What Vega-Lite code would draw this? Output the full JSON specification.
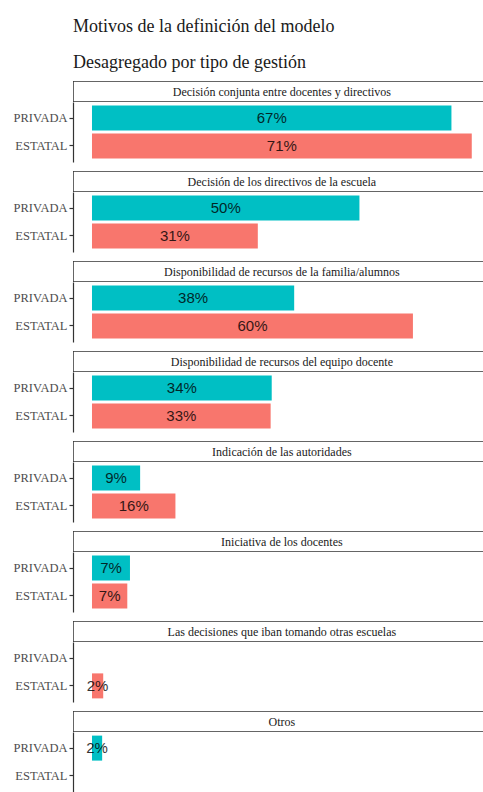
{
  "$schema": "https://vega.github.io/schema/vega-lite/v6.json",
  "padding": {"left": 5, "top": 18, "right": 0, "bottom": 0},
  "background": "white",
  "title": {
    "text": "Motivos de la definición del modelo",
    "subtitle": "Desagregado por tipo de gestión",
    "anchor": "start",
    "frame": "group",
    "font": "Liberation Serif",
    "fontSize": 18,
    "fontWeight": "normal",
    "color": "#1a1a1a",
    "subtitleFont": "Liberation Serif",
    "subtitleFontSize": 18,
    "subtitleColor": "#1a1a1a",
    "subtitlePadding": 18,
    "offset": 9,
    "dx": 0
  },
  "datasets": {
    "d": [
      {"motivo": "Decisión conjunta entre docentes y directivos", "gestion": "PRIVADA", "pct": 0.672},
      {"motivo": "Decisión conjunta entre docentes y directivos", "gestion": "ESTATAL", "pct": 0.71},
      {"motivo": "Decisión de los directivos de la escuela", "gestion": "PRIVADA", "pct": 0.50},
      {"motivo": "Decisión de los directivos de la escuela", "gestion": "ESTATAL", "pct": 0.31},
      {"motivo": "Disponibilidad de recursos de la familia/alumnos", "gestion": "PRIVADA", "pct": 0.378},
      {"motivo": "Disponibilidad de recursos de la familia/alumnos", "gestion": "ESTATAL", "pct": 0.60},
      {"motivo": "Disponibilidad de recursos del equipo docente", "gestion": "PRIVADA", "pct": 0.336},
      {"motivo": "Disponibilidad de recursos del equipo docente", "gestion": "ESTATAL", "pct": 0.334},
      {"motivo": "Indicación de las autoridades", "gestion": "PRIVADA", "pct": 0.09},
      {"motivo": "Indicación de las autoridades", "gestion": "ESTATAL", "pct": 0.156},
      {"motivo": "Iniciativa de los docentes", "gestion": "PRIVADA", "pct": 0.071},
      {"motivo": "Iniciativa de los docentes", "gestion": "ESTATAL", "pct": 0.066},
      {"motivo": "Las decisiones que iban tomando otras escuelas", "gestion": "ESTATAL", "pct": 0.021},
      {"motivo": "Otros", "gestion": "PRIVADA", "pct": 0.019}
    ],
    "strips": [
      {"motivo": "Decisión conjunta entre docentes y directivos"},
      {"motivo": "Decisión de los directivos de la escuela"},
      {"motivo": "Disponibilidad de recursos de la familia/alumnos"},
      {"motivo": "Disponibilidad de recursos del equipo docente"},
      {"motivo": "Indicación de las autoridades"},
      {"motivo": "Iniciativa de los docentes"},
      {"motivo": "Las decisiones que iban tomando otras escuelas"},
      {"motivo": "Otros"}
    ]
  },
  "spacing": 9,
  "vconcat": [
    {"spacing": 0, "vconcat": [
      {"height": 21, "width": 410, "data": {"name": "strips"}, "transform": [{"filter": "datum.motivo == 'Decisión conjunta entre docentes y directivos'"}],
       "layer": [
        {"mark": {"type": "rect", "fill": "white", "stroke": "#333333", "strokeWidth": 1.5, "clip": true}, "encoding": {"x": {"datum": -0.0355, "type": "quantitative", "scale": {"domain": [-0.0355, 0.731], "nice": false, "zero": false}, "axis": null}, "x2": {"datum": 0.9}}},
        {"mark": {"type": "text", "font": "Liberation Serif", "fontSize": 12, "color": "#1a1a1a"}, "encoding": {"x": {"datum": 0.355, "type": "quantitative"}, "text": {"field": "motivo", "type": "nominal"}}}
       ]},
      {"height": 60, "width": 410, "data": {"name": "d"}, "transform": [{"filter": "datum.motivo == 'Decisión conjunta entre docentes y directivos'"}],
       "encoding": {"y": {"field": "gestion", "type": "nominal", "title": null, "scale": {"domain": ["PRIVADA", "ESTATAL"], "paddingInner": 0.1, "paddingOuter": 0.13}}},
       "layer": [
        {"mark": {"type": "bar"}, "encoding": {"x": {"field": "pct", "type": "quantitative", "scale": {"domain": [-0.0355, 0.731], "nice": false, "zero": false}, "axis": null}, "x2": {"datum": 0}, "color": {"field": "gestion", "type": "nominal", "scale": {"domain": ["PRIVADA", "ESTATAL"], "range": ["#00BFC4", "#F8766D"]}, "legend": null}}},
        {"mark": {"type": "text", "font": "Liberation Sans", "fontSize": 15, "color": "#000000", "opacity": 0.8}, "encoding": {"x": {"field": "pct", "type": "quantitative", "scale": {"domain": [-0.071, 1.462], "nice": false, "zero": false}, "axis": null}, "text": {"field": "pct", "type": "quantitative", "format": ".0%"}}}
       ],
       "resolve": {"scale": {"x": "independent"}}}
    ]},
    {"spacing": 0, "vconcat": [
      {"height": 21, "width": 410, "data": {"name": "strips"}, "transform": [{"filter": "datum.motivo == 'Decisión de los directivos de la escuela'"}],
       "layer": [
        {"mark": {"type": "rect", "fill": "white", "stroke": "#333333", "strokeWidth": 1.5, "clip": true}, "encoding": {"x": {"datum": -0.0355, "type": "quantitative", "scale": {"domain": [-0.0355, 0.731], "nice": false, "zero": false}, "axis": null}, "x2": {"datum": 0.9}}},
        {"mark": {"type": "text", "font": "Liberation Serif", "fontSize": 12, "color": "#1a1a1a"}, "encoding": {"x": {"datum": 0.355, "type": "quantitative"}, "text": {"field": "motivo", "type": "nominal"}}}
       ]},
      {"height": 60, "width": 410, "data": {"name": "d"}, "transform": [{"filter": "datum.motivo == 'Decisión de los directivos de la escuela'"}],
       "encoding": {"y": {"field": "gestion", "type": "nominal", "title": null, "scale": {"domain": ["PRIVADA", "ESTATAL"], "paddingInner": 0.1, "paddingOuter": 0.13}}},
       "layer": [
        {"mark": {"type": "bar"}, "encoding": {"x": {"field": "pct", "type": "quantitative", "scale": {"domain": [-0.0355, 0.731], "nice": false, "zero": false}, "axis": null}, "x2": {"datum": 0}, "color": {"field": "gestion", "type": "nominal", "scale": {"domain": ["PRIVADA", "ESTATAL"], "range": ["#00BFC4", "#F8766D"]}, "legend": null}}},
        {"mark": {"type": "text", "font": "Liberation Sans", "fontSize": 15, "color": "#000000", "opacity": 0.8}, "encoding": {"x": {"field": "pct", "type": "quantitative", "scale": {"domain": [-0.071, 1.462], "nice": false, "zero": false}, "axis": null}, "text": {"field": "pct", "type": "quantitative", "format": ".0%"}}}
       ],
       "resolve": {"scale": {"x": "independent"}}}
    ]},
    {"spacing": 0, "vconcat": [
      {"height": 21, "width": 410, "data": {"name": "strips"}, "transform": [{"filter": "datum.motivo == 'Disponibilidad de recursos de la familia/alumnos'"}],
       "layer": [
        {"mark": {"type": "rect", "fill": "white", "stroke": "#333333", "strokeWidth": 1.5, "clip": true}, "encoding": {"x": {"datum": -0.0355, "type": "quantitative", "scale": {"domain": [-0.0355, 0.731], "nice": false, "zero": false}, "axis": null}, "x2": {"datum": 0.9}}},
        {"mark": {"type": "text", "font": "Liberation Serif", "fontSize": 12, "color": "#1a1a1a"}, "encoding": {"x": {"datum": 0.355, "type": "quantitative"}, "text": {"field": "motivo", "type": "nominal"}}}
       ]},
      {"height": 60, "width": 410, "data": {"name": "d"}, "transform": [{"filter": "datum.motivo == 'Disponibilidad de recursos de la familia/alumnos'"}],
       "encoding": {"y": {"field": "gestion", "type": "nominal", "title": null, "scale": {"domain": ["PRIVADA", "ESTATAL"], "paddingInner": 0.1, "paddingOuter": 0.13}}},
       "layer": [
        {"mark": {"type": "bar"}, "encoding": {"x": {"field": "pct", "type": "quantitative", "scale": {"domain": [-0.0355, 0.731], "nice": false, "zero": false}, "axis": null}, "x2": {"datum": 0}, "color": {"field": "gestion", "type": "nominal", "scale": {"domain": ["PRIVADA", "ESTATAL"], "range": ["#00BFC4", "#F8766D"]}, "legend": null}}},
        {"mark": {"type": "text", "font": "Liberation Sans", "fontSize": 15, "color": "#000000", "opacity": 0.8}, "encoding": {"x": {"field": "pct", "type": "quantitative", "scale": {"domain": [-0.071, 1.462], "nice": false, "zero": false}, "axis": null}, "text": {"field": "pct", "type": "quantitative", "format": ".0%"}}}
       ],
       "resolve": {"scale": {"x": "independent"}}}
    ]},
    {"spacing": 0, "vconcat": [
      {"height": 21, "width": 410, "data": {"name": "strips"}, "transform": [{"filter": "datum.motivo == 'Disponibilidad de recursos del equipo docente'"}],
       "layer": [
        {"mark": {"type": "rect", "fill": "white", "stroke": "#333333", "strokeWidth": 1.5, "clip": true}, "encoding": {"x": {"datum": -0.0355, "type": "quantitative", "scale": {"domain": [-0.0355, 0.731], "nice": false, "zero": false}, "axis": null}, "x2": {"datum": 0.9}}},
        {"mark": {"type": "text", "font": "Liberation Serif", "fontSize": 12, "color": "#1a1a1a"}, "encoding": {"x": {"datum": 0.355, "type": "quantitative"}, "text": {"field": "motivo", "type": "nominal"}}}
       ]},
      {"height": 60, "width": 410, "data": {"name": "d"}, "transform": [{"filter": "datum.motivo == 'Disponibilidad de recursos del equipo docente'"}],
       "encoding": {"y": {"field": "gestion", "type": "nominal", "title": null, "scale": {"domain": ["PRIVADA", "ESTATAL"], "paddingInner": 0.1, "paddingOuter": 0.13}}},
       "layer": [
        {"mark": {"type": "bar"}, "encoding": {"x": {"field": "pct", "type": "quantitative", "scale": {"domain": [-0.0355, 0.731], "nice": false, "zero": false}, "axis": null}, "x2": {"datum": 0}, "color": {"field": "gestion", "type": "nominal", "scale": {"domain": ["PRIVADA", "ESTATAL"], "range": ["#00BFC4", "#F8766D"]}, "legend": null}}},
        {"mark": {"type": "text", "font": "Liberation Sans", "fontSize": 15, "color": "#000000", "opacity": 0.8}, "encoding": {"x": {"field": "pct", "type": "quantitative", "scale": {"domain": [-0.071, 1.462], "nice": false, "zero": false}, "axis": null}, "text": {"field": "pct", "type": "quantitative", "format": ".0%"}}}
       ],
       "resolve": {"scale": {"x": "independent"}}}
    ]},
    {"spacing": 0, "vconcat": [
      {"height": 21, "width": 410, "data": {"name": "strips"}, "transform": [{"filter": "datum.motivo == 'Indicación de las autoridades'"}],
       "layer": [
        {"mark": {"type": "rect", "fill": "white", "stroke": "#333333", "strokeWidth": 1.5, "clip": true}, "encoding": {"x": {"datum": -0.0355, "type": "quantitative", "scale": {"domain": [-0.0355, 0.731], "nice": false, "zero": false}, "axis": null}, "x2": {"datum": 0.9}}},
        {"mark": {"type": "text", "font": "Liberation Serif", "fontSize": 12, "color": "#1a1a1a"}, "encoding": {"x": {"datum": 0.355, "type": "quantitative"}, "text": {"field": "motivo", "type": "nominal"}}}
       ]},
      {"height": 60, "width": 410, "data": {"name": "d"}, "transform": [{"filter": "datum.motivo == 'Indicación de las autoridades'"}],
       "encoding": {"y": {"field": "gestion", "type": "nominal", "title": null, "scale": {"domain": ["PRIVADA", "ESTATAL"], "paddingInner": 0.1, "paddingOuter": 0.13}}},
       "layer": [
        {"mark": {"type": "bar"}, "encoding": {"x": {"field": "pct", "type": "quantitative", "scale": {"domain": [-0.0355, 0.731], "nice": false, "zero": false}, "axis": null}, "x2": {"datum": 0}, "color": {"field": "gestion", "type": "nominal", "scale": {"domain": ["PRIVADA", "ESTATAL"], "range": ["#00BFC4", "#F8766D"]}, "legend": null}}},
        {"mark": {"type": "text", "font": "Liberation Sans", "fontSize": 15, "color": "#000000", "opacity": 0.8}, "encoding": {"x": {"field": "pct", "type": "quantitative", "scale": {"domain": [-0.071, 1.462], "nice": false, "zero": false}, "axis": null}, "text": {"field": "pct", "type": "quantitative", "format": ".0%"}}}
       ],
       "resolve": {"scale": {"x": "independent"}}}
    ]},
    {"spacing": 0, "vconcat": [
      {"height": 21, "width": 410, "data": {"name": "strips"}, "transform": [{"filter": "datum.motivo == 'Iniciativa de los docentes'"}],
       "layer": [
        {"mark": {"type": "rect", "fill": "white", "stroke": "#333333", "strokeWidth": 1.5, "clip": true}, "encoding": {"x": {"datum": -0.0355, "type": "quantitative", "scale": {"domain": [-0.0355, 0.731], "nice": false, "zero": false}, "axis": null}, "x2": {"datum": 0.9}}},
        {"mark": {"type": "text", "font": "Liberation Serif", "fontSize": 12, "color": "#1a1a1a"}, "encoding": {"x": {"datum": 0.355, "type": "quantitative"}, "text": {"field": "motivo", "type": "nominal"}}}
       ]},
      {"height": 60, "width": 410, "data": {"name": "d"}, "transform": [{"filter": "datum.motivo == 'Iniciativa de los docentes'"}],
       "encoding": {"y": {"field": "gestion", "type": "nominal", "title": null, "scale": {"domain": ["PRIVADA", "ESTATAL"], "paddingInner": 0.1, "paddingOuter": 0.13}}},
       "layer": [
        {"mark": {"type": "bar"}, "encoding": {"x": {"field": "pct", "type": "quantitative", "scale": {"domain": [-0.0355, 0.731], "nice": false, "zero": false}, "axis": null}, "x2": {"datum": 0}, "color": {"field": "gestion", "type": "nominal", "scale": {"domain": ["PRIVADA", "ESTATAL"], "range": ["#00BFC4", "#F8766D"]}, "legend": null}}},
        {"mark": {"type": "text", "font": "Liberation Sans", "fontSize": 15, "color": "#000000", "opacity": 0.8}, "encoding": {"x": {"field": "pct", "type": "quantitative", "scale": {"domain": [-0.071, 1.462], "nice": false, "zero": false}, "axis": null}, "text": {"field": "pct", "type": "quantitative", "format": ".0%"}}}
       ],
       "resolve": {"scale": {"x": "independent"}}}
    ]},
    {"spacing": 0, "vconcat": [
      {"height": 21, "width": 410, "data": {"name": "strips"}, "transform": [{"filter": "datum.motivo == 'Las decisiones que iban tomando otras escuelas'"}],
       "layer": [
        {"mark": {"type": "rect", "fill": "white", "stroke": "#333333", "strokeWidth": 1.5, "clip": true}, "encoding": {"x": {"datum": -0.0355, "type": "quantitative", "scale": {"domain": [-0.0355, 0.731], "nice": false, "zero": false}, "axis": null}, "x2": {"datum": 0.9}}},
        {"mark": {"type": "text", "font": "Liberation Serif", "fontSize": 12, "color": "#1a1a1a"}, "encoding": {"x": {"datum": 0.355, "type": "quantitative"}, "text": {"field": "motivo", "type": "nominal"}}}
       ]},
      {"height": 60, "width": 410, "data": {"name": "d"}, "transform": [{"filter": "datum.motivo == 'Las decisiones que iban tomando otras escuelas'"}],
       "encoding": {"y": {"field": "gestion", "type": "nominal", "title": null, "scale": {"domain": ["PRIVADA", "ESTATAL"], "paddingInner": 0.1, "paddingOuter": 0.13}}},
       "layer": [
        {"mark": {"type": "bar"}, "encoding": {"x": {"field": "pct", "type": "quantitative", "scale": {"domain": [-0.0355, 0.731], "nice": false, "zero": false}, "axis": null}, "x2": {"datum": 0}, "color": {"field": "gestion", "type": "nominal", "scale": {"domain": ["PRIVADA", "ESTATAL"], "range": ["#00BFC4", "#F8766D"]}, "legend": null}}},
        {"mark": {"type": "text", "font": "Liberation Sans", "fontSize": 15, "color": "#000000", "opacity": 0.8}, "encoding": {"x": {"field": "pct", "type": "quantitative", "scale": {"domain": [-0.071, 1.462], "nice": false, "zero": false}, "axis": null}, "text": {"field": "pct", "type": "quantitative", "format": ".0%"}}}
       ],
       "resolve": {"scale": {"x": "independent"}}}
    ]},
    {"spacing": 0, "vconcat": [
      {"height": 21, "width": 410, "data": {"name": "strips"}, "transform": [{"filter": "datum.motivo == 'Otros'"}],
       "layer": [
        {"mark": {"type": "rect", "fill": "white", "stroke": "#333333", "strokeWidth": 1.5, "clip": true}, "encoding": {"x": {"datum": -0.0355, "type": "quantitative", "scale": {"domain": [-0.0355, 0.731], "nice": false, "zero": false}, "axis": null}, "x2": {"datum": 0.9}}},
        {"mark": {"type": "text", "font": "Liberation Serif", "fontSize": 12, "color": "#1a1a1a"}, "encoding": {"x": {"datum": 0.355, "type": "quantitative"}, "text": {"field": "motivo", "type": "nominal"}}}
       ]},
      {"height": 60, "width": 410, "data": {"name": "d"}, "transform": [{"filter": "datum.motivo == 'Otros'"}],
       "encoding": {"y": {"field": "gestion", "type": "nominal", "title": null, "scale": {"domain": ["PRIVADA", "ESTATAL"], "paddingInner": 0.1, "paddingOuter": 0.13}}},
       "layer": [
        {"mark": {"type": "bar"}, "encoding": {"x": {"field": "pct", "type": "quantitative", "scale": {"domain": [-0.0355, 0.731], "nice": false, "zero": false}, "axis": null}, "x2": {"datum": 0}, "color": {"field": "gestion", "type": "nominal", "scale": {"domain": ["PRIVADA", "ESTATAL"], "range": ["#00BFC4", "#F8766D"]}, "legend": null}}},
        {"mark": {"type": "text", "font": "Liberation Sans", "fontSize": 15, "color": "#000000", "opacity": 0.8}, "encoding": {"x": {"field": "pct", "type": "quantitative", "scale": {"domain": [-0.071, 1.462], "nice": false, "zero": false}, "axis": null}, "text": {"field": "pct", "type": "quantitative", "format": ".0%"}}}
       ],
       "resolve": {"scale": {"x": "independent"}}}
    ]}
  ],
  "config": {
    "view": {"stroke": null},
    "axis": {"labelFont": "Liberation Serif", "labelFontSize": 12.5, "labelColor": "#4d4d4d", "tickColor": "#333333", "domainColor": "#333333", "tickSize": 4, "labelPadding": 2, "domainWidth": 1.2, "tickWidth": 1.2, "grid": false, "minExtent": 68, "maxExtent": 68}
  }
}
